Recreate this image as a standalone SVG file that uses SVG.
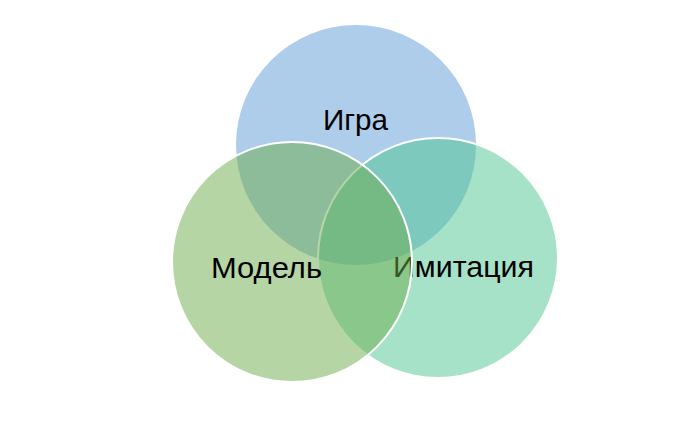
<svg xmlns="http://www.w3.org/2000/svg" width="680" height="442" viewBox="0 0 680 442">
  <style>
    .lbl { font-family: "Liberation Sans", Arial, sans-serif; font-size: 30px; fill: #000000; text-anchor: middle; }
    .c { fill-opacity: 0.5; }
    .s { stroke: #FFFFFF; stroke-width: 2; }
  </style>
  <rect width="680" height="442" fill="#FFFFFF"/>
  <g id="node-igra">
    <circle class="c" cx="356" cy="145" r="120" fill="#5B9BD5"/>
    <text class="lbl" x="355.5" y="130" textLength="65" lengthAdjust="spacingAndGlyphs">Игра</text>
  </g>
  <g id="node-imitatsiya">
    <circle class="c s" cx="438" cy="258" r="120" fill="#4DC591"/>
    <text class="lbl" x="463.5" y="277" textLength="141" lengthAdjust="spacingAndGlyphs">Имитация</text>
  </g>
  <g id="node-model">
    <circle class="c s" cx="292" cy="262" r="120" fill="#6EAC4B"/>
    <text class="lbl" x="266.5" y="278" textLength="111" lengthAdjust="spacingAndGlyphs">Модель</text>
  </g>
  <g id="connectors"></g>
</svg>
